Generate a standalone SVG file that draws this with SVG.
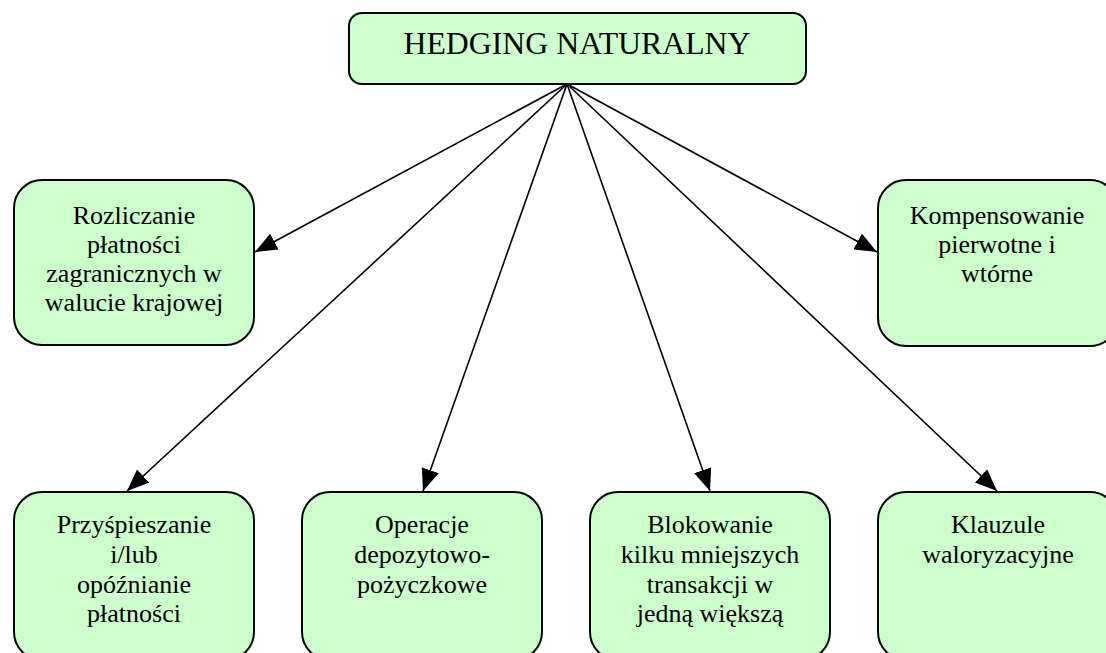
<svg xmlns="http://www.w3.org/2000/svg" width="1106" height="653" viewBox="0 0 1106 653">
<style>
.box{fill:#CCFFCC;stroke:#000;stroke-width:2}
.t{font-size:26px;fill:#000;text-anchor:middle}
.title{font-size:31.8px;fill:#000;text-anchor:middle}
.edge{stroke:#000;stroke-width:1.6;fill:none;marker-end:url(#arr)}
</style>
<defs>
<marker id="arr" viewBox="0 0 22 18" refX="22" refY="9" markerWidth="22" markerHeight="18" markerUnits="userSpaceOnUse" orient="auto">
<path d="M0,0 L22,9 L0,18 z" fill="#000"/>
</marker>
</defs>
<rect width="1106" height="653" fill="#fff"/>
<g id="connectors">
<line class="edge" x1="567" y1="84" x2="255" y2="252"/>
<line class="edge" x1="567" y1="84" x2="877" y2="252"/>
<line class="edge" x1="567" y1="84" x2="127" y2="491"/>
<line class="edge" x1="567" y1="84" x2="423" y2="491"/>
<line class="edge" x1="567" y1="84" x2="710" y2="491"/>
<line class="edge" x1="567" y1="84" x2="997" y2="491"/>
</g>
<g font-family="'Liberation Serif', 'DejaVu Serif', serif">
<g id="root">
<rect class="box" x="349" y="13" width="457" height="71" rx="13"/>
<text class="title" x="577" y="54">HEDGING NATURALNY</text>
</g>
<g id="rozliczanie">
<rect class="box" x="14" y="180" width="240" height="165" rx="28"/>
<text class="t" x="134" y="224">Rozliczanie</text>
<text class="t" x="134" y="253">płatności</text>
<text class="t" x="134" y="282">zagranicznych w</text>
<text class="t" x="134" y="311">walucie krajowej</text>
</g>
<g id="kompensowanie">
<rect class="box" x="878" y="180" width="240" height="166" rx="28"/>
<text class="t" x="997" y="224">Kompensowanie</text>
<text class="t" x="997" y="253">pierwotne i</text>
<text class="t" x="997" y="282">wtórne</text>
</g>
<g id="przyspieszanie">
<rect class="box" x="14" y="492" width="240" height="168" rx="28"/>
<text class="t" x="134" y="533">Przyśpieszanie</text>
<text class="t" x="134" y="563">i/lub</text>
<text class="t" x="134" y="593">opóźnianie</text>
<text class="t" x="134" y="622">płatności</text>
</g>
<g id="operacje">
<rect class="box" x="302" y="492" width="240" height="168" rx="28"/>
<text class="t" x="422" y="533">Operacje</text>
<text class="t" x="422" y="563">depozytowo-</text>
<text class="t" x="422" y="593">pożyczkowe</text>
</g>
<g id="blokowanie">
<rect class="box" x="590" y="492" width="240" height="168" rx="28"/>
<text class="t" x="710" y="533">Blokowanie</text>
<text class="t" x="710" y="563">kilku mniejszych</text>
<text class="t" x="710" y="593">transakcji w</text>
<text class="t" x="710" y="622">jedną większą</text>
</g>
<g id="klauzule">
<rect class="box" x="878" y="492" width="240" height="168" rx="28"/>
<text class="t" x="998" y="533">Klauzule</text>
<text class="t" x="998" y="563">waloryzacyjne</text>
</g>
</g>
</svg>
